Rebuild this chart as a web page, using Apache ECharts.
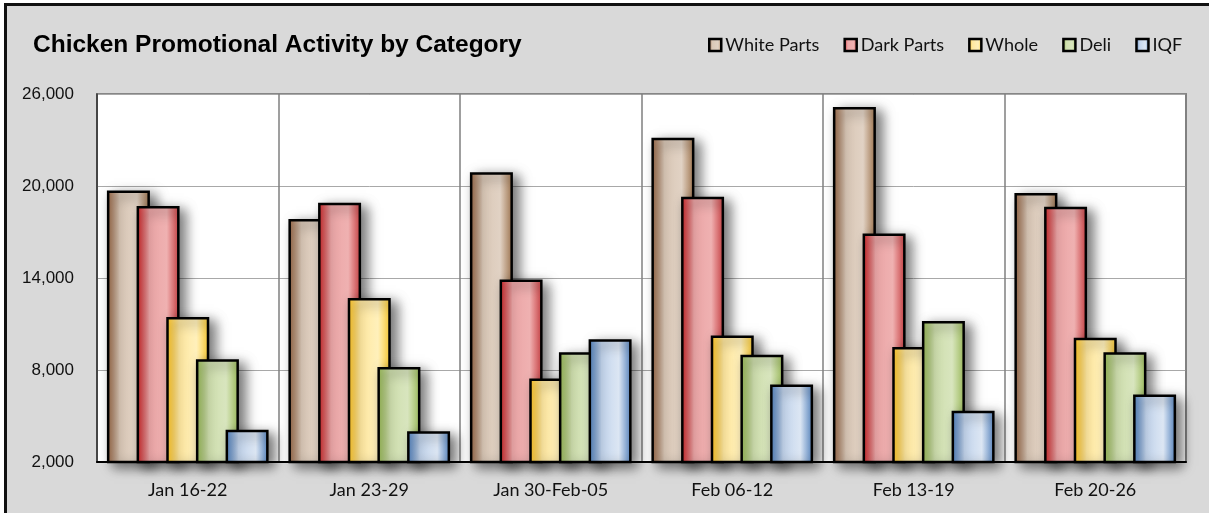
<!DOCTYPE html>
<html>
<head>
<meta charset="utf-8">
<title>Chicken Promotional Activity by Category</title>
<script src="https://cdn.jsdelivr.net/npm/echarts@6.0.0/dist/echarts.min.js"></script>
<style>
  html, body { margin: 0; padding: 0; background: #fff; overflow: hidden; }
  #frame {
    position: absolute; left: 4px; top: 3px;
    width: 1260px; height: 560px;
    border: 3px solid #111; background: #d9d9d9;
  }
  #chart { position: absolute; left: 0; top: 0; width: 1209px; height: 513px; }
</style>
</head>
<body>
<div id="frame"></div>
<div id="chart"></div>
<script>
// weekly promo counts
var categories = ['Jan 16-22', 'Jan 23-29', 'Jan 30-Feb-05', 'Feb 06-12', 'Feb 13-19', 'Feb 20-26'];
var whiteParts = [19700, 17850, 20900, 23150, 25150, 19550];
var darkParts = [18700, 18900, 13900, 19300, 16900, 18650];
var whole = [11450, 12700, 7450, 10250, 9500, 10100];
var deli = [8700, 8200, 9150, 9000, 11200, 9150];
var iqf = [4100, 4000, 10000, 7050, 5350, 6400];
var yTicks = [2000, 8000, 14000, 20000, 26000];

// left -> middle -> right shading, like the excel fill
function shade(edgeL, mid1, mid2, edgeR) {
  return new echarts.graphic.LinearGradient(0, 0, 1, 0, [
    { offset: 0, color: edgeL },
    { offset: 0.3, color: mid1 },
    { offset: 0.7, color: mid2 },
    { offset: 1, color: edgeR }
  ]);
}

var fills = [
  shade('#956240', '#dac8b7', '#e1d2c4', '#a3774f'),
  shade('#cc1f22', '#eca6a7', '#efb1b1', '#cc3f42'),
  shade('#ffc31c', '#ffe8a0', '#fff0bb', '#ffcd30'),
  shade('#94b650', '#cfdfae', '#d8e5be', '#9fbf5c'),
  shade('#4a7cbb', '#c3d5ed', '#dce6f3', '#5585c2')
];

function makeSeries(name, data, i) {
  return {
    name: name,
    type: 'bar',
    data: data,
    barWidth: 43,
    barGap: '-31%',
    itemStyle: {
      color: fills[i],
      borderColor: '#000',
      borderWidth: 2.5,
      shadowColor: 'rgba(0,0,0,0.55)',
      shadowBlur: 12,
      shadowOffsetX: 6,
      shadowOffsetY: 4
    },
    emphasis: { disabled: true }
  };
}

var dom = document.getElementById('chart');
var myChart = echarts.init(dom, null, { renderer: 'canvas' });

var option = {
  animation: false,
  backgroundColor: 'transparent',
  title: {
    text: 'Chicken Promotional Activity by Category',
    left: 33,
    top: 33,
    padding: 0,
    textStyle: {
      fontFamily: 'Liberation Sans',
      fontSize: 24.5,
      fontWeight: 'bold',
      color: '#000'
    }
  },
  legend: {
    left: 708,
    top: 36,
    padding: 0,
    itemWidth: 12,
    itemHeight: 12,
    itemGap: 24,
    icon: 'rect',
    itemStyle: {
      borderColor: '#000',
      borderWidth: 2.5,
      shadowBlur: 0,
      shadowOffsetX: 0,
      shadowOffsetY: 0
    },
    textStyle: {
      fontFamily: 'Lato',
      fontSize: 18.1,
      color: '#111',
      padding: [0, 0, 0, -1]
    }
  },
  grid: {
    left: 97,
    right: 23,
    top: 94,
    bottom: 51,
    show: true,
    backgroundColor: '#fff',
    borderColor: '#868686',
    borderWidth: 2
  },
  xAxis: {
    type: 'category',
    data: categories,
    axisLine: { lineStyle: { color: '#000', width: 2 } },
    axisTick: { show: false },
    splitLine: {
      show: true,
      interval: 0,
      lineStyle: { color: '#7f7f7f', width: 1.5 }
    },
    axisLabel: {
      interval: 0,
      margin: 19,
      fontFamily: 'Lato',
      fontSize: 18,
      color: '#111'
    }
  },
  yAxis: {
    type: 'value',
    min: yTicks[0],
    max: yTicks[yTicks.length - 1],
    interval: yTicks[1] - yTicks[0],
    axisLine: { show: true, lineStyle: { color: '#333', width: 1.5 } },
    axisTick: { show: false },
    splitLine: { lineStyle: { color: '#a8a8a8', width: 1 } },
    axisLabel: {
      margin: 23,
      fontFamily: 'Liberation Sans',
      fontSize: 17,
      color: '#111',
      formatter: function (val) {
        return val.toLocaleString('en-US');
      }
    }
  },
  series: [
    makeSeries('White Parts', whiteParts, 0),
    makeSeries('Dark Parts', darkParts, 1),
    makeSeries('Whole', whole, 2),
    makeSeries('Deli', deli, 3),
    makeSeries('IQF', iqf, 4)
  ]
};

if (option && typeof option === 'object') {
  myChart.setOption(option);
}

window.addEventListener('resize', myChart.resize);
</script>
</body>
</html>
